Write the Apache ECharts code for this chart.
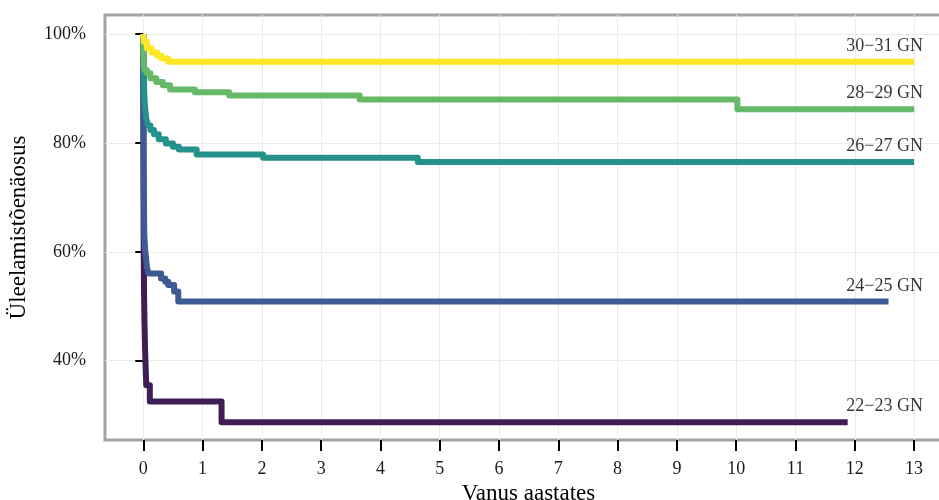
<!DOCTYPE html>
<html>
<head>
<meta charset="utf-8">
<script src="https://cdn.jsdelivr.net/npm/echarts@6/dist/echarts.min.js"></script>
<style>html,body{margin:0;padding:0;background:#fff;overflow:hidden}#c{width:939px;height:500px}</style>
</head>
<body>
<div id="c"></div>
<script>
// Group names
const groups = ['22−23 GN', '24−25 GN', '26−27 GN', '28−29 GN', '30−31 GN'];
// Kaplan–Meier event times (years) and survival (%) per group
const t2223 = [0, 0.001, 0.002, 0.004, 0.007, 0.012, 0.02, 0.03, 0.04, 0.05, 0.11, 1.32, 11.88];
const s2223 = [100, 88, 78, 68, 60, 53, 47, 42, 38.5, 35.5, 32.5, 28.7, 28.7];
const t2425 = [0, 0.001, 0.003, 0.006, 0.01, 0.017, 0.03, 0.045, 0.06, 0.085, 0.3, 0.37, 0.42, 0.52, 0.59, 12.57];
const s2425 = [100, 92, 84, 77, 70, 63, 60.5, 59, 57.3, 56.0, 55.1, 54.5, 53.9, 52.7, 50.9, 50.9];
const t2627 = [0, 0.002, 0.005, 0.01, 0.017, 0.03, 0.05, 0.08, 0.12, 0.18, 0.26, 0.38, 0.5, 0.6, 0.9, 2.02, 4.63, 13];
const s2627 = [100, 97, 94, 92, 89, 86.5, 84.5, 83.2, 82.4, 81.6, 80.7, 79.9, 79.3, 78.8, 77.9, 77.3, 76.5, 76.5];
const t2829 = [0, 0.003, 0.008, 0.02, 0.06, 0.12, 0.22, 0.33, 0.45, 0.87, 1.45, 3.65, 10.02, 13];
const s2829 = [100, 97, 94.5, 93.4, 92.8, 91.9, 91.2, 90.6, 89.8, 89.3, 88.7, 88.0, 86.2, 86.2];
const t3031 = [0, 0.01, 0.06, 0.14, 0.23, 0.31, 0.42, 13];
const s3031 = [100, 98.6, 97.4, 96.6, 96.0, 95.5, 94.9, 94.9];
// Axis ticks
const xTicks = [0, 1, 2, 3, 4, 5, 6, 7, 8, 9, 10, 11, 12, 13];
const yTicks = [40, 60, 80, 100];
const labelX = 13;

const times = [t2223, t2425, t2627, t2829, t3031];
const surv = [s2223, s2425, s2627, s2829, s3031];
const colors = ['#3E1E55', '#3D5A93', '#24918B', '#66B966', '#FDE725'];
const FONT = '"Liberation Serif", "Times New Roman", serif';

const series = groups.map((g, i) => ({
  name: g,
  type: 'line',
  step: 'end',
  showSymbol: false,
  symbol: 'none',
  silent: true,
  data: times[i].map((t, k) => [t, surv[i][k]]),
  lineStyle: { color: colors[i], width: 6, cap: 'butt', join: 'round' },
  z: 2 + i
}));

series.push({
  type: 'scatter',
  symbolSize: 0.1,
  silent: true,
  data: groups.map((g, i) => ({ value: [labelX, surv[i][surv[i].length - 1]], name: g })),
  label: {
    show: true,
    position: [0, 0],
    align: 'right',
    verticalAlign: 'middle',
    offset: [9, -15.5],
    formatter: p => p.name,
    fontFamily: FONT,
    fontSize: 18,
    color: '#000'
  },
  z: 10
});

const chart = echarts.init(document.getElementById('c'), null, { renderer: 'canvas' });
chart.setOption({
  animation: false,
  backgroundColor: '#fff',
  grid: {
    left: 105, width: 847, top: 15, bottom: 60,
    outerBoundsMode: 'none',
    containLabel: false,
    show: true, borderColor: '#a3a3a3', borderWidth: 3, backgroundColor: 'transparent'
  },
  xAxis: {
    type: 'value',
    min: -0.646, max: 13.64,
    name: 'Vanus aastates',
    nameLocation: 'middle',
    nameGap: 39,
    nameTextStyle: { fontFamily: FONT, fontSize: 23, color: '#000' },
    axisLine: { show: false },
    axisTick: { show: true, length: 11, lineStyle: { color: '#000', width: 2 }, customValues: xTicks },
    axisLabel: { customValues: xTicks, fontFamily: FONT, fontSize: 18, color: '#1a1a1a', margin: 20 },
    splitLine: { show: true, lineStyle: { color: '#ebebeb', width: 1 } }
  },
  yAxis: {
    type: 'value',
    min: 25.44, max: 103.5,
    name: 'Üleelamistõenäosus',
    nameLocation: 'middle',
    nameGap: 75,
    nameTextStyle: { fontFamily: FONT, fontSize: 23, color: '#000' },
    axisLine: { show: false },
    axisTick: { show: true, length: 8, lineStyle: { color: '#000', width: 2 }, customValues: yTicks },
    axisLabel: { customValues: yTicks, formatter: v => v + '%', fontFamily: FONT, fontSize: 18, color: '#1a1a1a', margin: 19 },
    splitLine: { show: true, lineStyle: { color: '#ebebeb', width: 1 } }
  },
  series: series
});
</script>
</body>
</html>
